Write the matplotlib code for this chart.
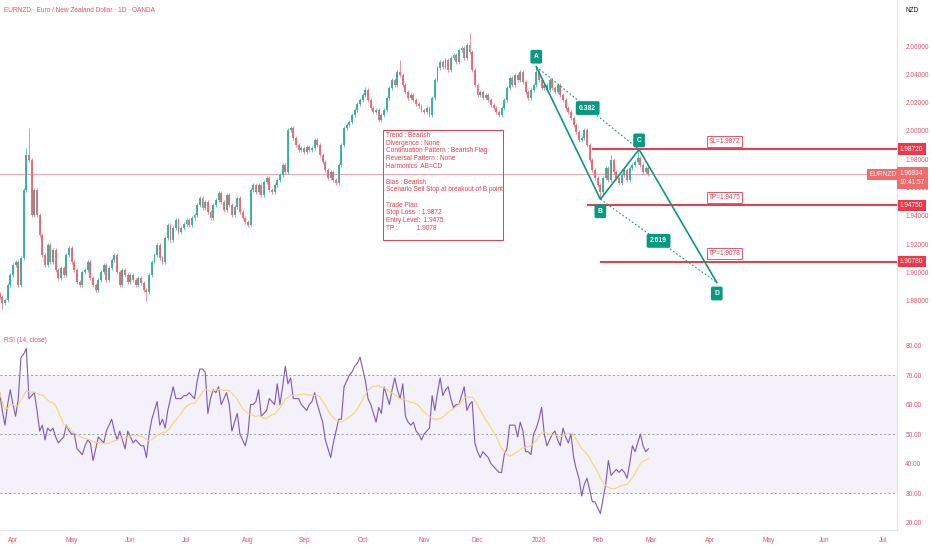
import matplotlib
matplotlib.use("Agg")
import matplotlib.pyplot as plt
import matplotlib.transforms as mtransforms
import numpy as np
import pandas as pd

plt.rcParams['font.family'] = ['Liberation Sans', 'DejaVu Sans']
FS = 4.7

# Daily closes EURNZD, first bar 2025-03-25
closes = [
    1.8828, 1.8786, 1.8807, 1.8913, 1.8984, 1.9054, 1.9075, 1.8913, 1.9104, 1.9584,
    1.9831, 1.9796, 1.9407, 1.9584, 1.9407, 1.9266, 1.9125, 1.9054, 1.9195, 1.9075,
    1.9160, 1.9019, 1.8962, 1.9033, 1.8984, 1.9125, 1.9174, 1.9075, 1.9019, 1.8934,
    1.8913, 1.9005, 1.9019, 1.9075, 1.8962, 1.8913, 1.8878, 1.8948, 1.9005, 1.9054,
    1.8948, 1.9033, 1.9089, 1.9125, 1.9005, 1.8913, 1.9019, 1.8984, 1.8934, 1.8984,
    1.8948, 1.8913, 1.8962, 1.8927, 1.8878, 1.8864, 1.8984, 1.9075, 1.9125, 1.9195,
    1.9104, 1.9075, 1.9245, 1.9337, 1.9231, 1.9315, 1.9372, 1.9287, 1.9315, 1.9344,
    1.9372, 1.9337, 1.9386, 1.9407, 1.9478, 1.9527, 1.9457, 1.9499, 1.9428, 1.9386,
    1.9478, 1.9513, 1.9562, 1.9499, 1.9442, 1.9548, 1.9478, 1.9407, 1.9464, 1.9527,
    1.9428, 1.9386, 1.9358, 1.9337, 1.9584, 1.9619, 1.9570, 1.9619, 1.9548, 1.9640,
    1.9668, 1.9584, 1.9570, 1.9619, 1.9654, 1.9690, 1.9760, 1.9711, 2.0007, 2.0021,
    1.9951, 1.9901, 1.9866, 1.9880, 1.9852, 1.9887, 1.9866, 1.9880, 1.9937, 1.9901,
    1.9831, 1.9781, 1.9725, 1.9668, 1.9711, 1.9654, 1.9633, 1.9760, 1.9901, 2.0021,
    2.0043, 2.0064, 2.0113, 2.0148, 2.0191, 2.0219, 2.0254, 2.0290, 2.0219, 2.0162,
    2.0134, 2.0148, 2.0078, 2.0113, 2.0148, 2.0233, 2.0304, 2.0360, 2.0325, 2.0417,
    2.0396, 2.0325, 2.0276, 2.0233, 2.0254, 2.0219, 2.0191, 2.0177, 2.0148, 2.0134,
    2.0162, 2.0113, 2.0233, 2.0360, 2.0445, 2.0487, 2.0452, 2.0501, 2.0431, 2.0516,
    2.0537, 2.0487, 2.0572, 2.0586, 2.0516, 2.0607, 2.0558, 2.0431, 2.0325, 2.0254,
    2.0276, 2.0233, 2.0254, 2.0219, 2.0184, 2.0162, 2.0134, 2.0113, 2.0162, 2.0219,
    2.0304, 2.0374, 2.0325, 2.0396, 2.0360, 2.0417, 2.0346, 2.0276, 2.0233, 2.0290,
    2.0325, 2.0417, 2.0360, 2.0304, 2.0325, 2.0290, 2.0360, 2.0304, 2.0276, 2.0325,
    2.0254, 2.0219, 2.0162, 2.0134, 2.0092, 2.0043, 1.9993, 1.9937, 1.9951, 2.0007,
    1.9901, 1.9796, 1.9725, 1.9668, 1.9619, 1.9570, 1.9668, 1.9739, 1.9654, 1.9796,
    1.9711, 1.9668, 1.9633, 1.9690, 1.9725, 1.9654, 1.9739, 1.9760, 1.9781, 1.9810,
    1.9760, 1.9711, 1.9739, 1.96934,
]
first_open = 1.8850

# notable wick extremes (bar index -> price)
highs_seen = {10: 1.9880, 11: 2.0021, 137: 2.0310, 150: 2.0501, 176: 2.0690,
              201: 2.0454, 229: 1.9830, 239: 1.9870}
lows_seen = {1: 1.8745, 55: 1.8800, 225: 1.9518}

# RSI(14)
rsi = [
    64, 58, 53, 60, 65, 60, 56, 62, 76, 77, 79, 62, 63, 64, 58, 51, 53, 48, 52, 51,
    52, 49, 47, 48, 49, 53, 51, 50, 50, 45, 44, 43, 46, 48, 47, 41, 45, 49, 48, 47,
    51, 53, 55, 51, 48, 51, 48, 45, 51, 49, 47, 48, 47, 46, 46, 42, 50, 55, 58, 61,
    53, 55, 52, 58, 62, 66, 62, 62, 62, 63, 63, 64, 63, 62, 68, 72, 72, 71, 57, 62,
    65, 64, 66, 60, 62, 64, 60, 51, 54, 57, 50, 48, 46, 50, 60, 60, 61, 65, 56, 57,
    58, 62, 61, 60, 67, 60, 66, 73, 67, 69, 62, 62, 62, 60, 59, 58, 60, 61, 64, 60,
    57, 54, 48, 45, 42, 47, 51, 55, 55, 66, 68, 70, 71, 73, 74, 76, 72, 68, 62, 60,
    57, 54, 59, 57, 66, 63, 60, 65, 69, 65, 62, 67, 56, 54, 53, 54, 51, 50, 48, 50,
    51, 52, 63, 58, 64, 69, 63, 65, 66, 62, 59, 60, 60, 63, 66, 58, 60, 61, 47, 44,
    42, 44, 43, 42, 40, 39, 38, 37, 37, 43, 45, 53, 53, 53, 49, 54, 51, 44, 44, 43,
    50, 52, 55, 59, 50, 46, 48, 50, 51, 48, 46, 52, 49, 47, 50, 42, 38, 35, 29, 33,
    35, 31, 27, 27, 25, 23, 28, 33, 41, 36, 37, 38, 37, 38, 37, 35, 40, 46, 44, 47,
    50, 46, 44, 45,
]

# AB=CD pattern pivots (bar index, price)
pattern_names = ['A', 'B', 'C', 'D']
pattern_bars = [201, 225, 239.5, 268.6]
pattern_prices = [2.0454, 1.9518, 1.9870, 1.8930]
ratio_text = ['0.382', '2.619']

# trade levels
level_names = ['SL=1.9872', 'TP=1.9475', 'TP=1.9078']
level_prices = [1.9872, 1.9475, 1.9078]
level_start = [222, 220, 225]

plan_lines = [
    "Trend : Bearish",
    "Divergence : None",
    "Continuation Pattern : Bearish Flag",
    "Reversal Pattern : None",
    "Harmonics  AB=CD",
    "",
    "Bias : Bearish",
    "Scenario Sell Stop at breakout of B point",
    "",
    "Trade Plan",
    "Stop Loss  : 1.9872",
    "Entry Level:  1.9475",
    "TP :           1.9078",
]

price_ticks = [1.88, 1.90, 1.92, 1.94, 1.96, 1.98, 2.00, 2.02, 2.04, 2.06]
rsi_ticks = [20, 30, 40, 50, 60, 70, 80]

UP = '#2bb09a'
DOWN = '#f45f6a'
RED = '#f23645'
TXT = '#ef4f63'
TEAL = '#089981'
GRID = '#e0e3eb'

n = len(closes)
dates = pd.bdate_range('2025-03-25', periods=360)
bars = np.arange(n)
c = np.array(closes)
o = np.concatenate([[first_open], c[:-1]])
hi = np.maximum(o, c) + 0.0012
lo = np.minimum(o, c) - 0.0012
for k, v in highs_seen.items():
    hi[k] = v
for k, v in lows_seen.items():
    lo[k] = v

month_pos, month_lab = [], []
for m in pd.date_range('2025-04-01', '2026-07-01', freq='MS'):
    month_pos.append(int(np.searchsorted(dates, m)))
    month_lab.append(str(m.year) if m.month == 1 else m.strftime('%b'))

fig = plt.figure(figsize=(9.32, 5.5), dpi=100)
W = 897 / 932
ax = fig.add_axes([0, 1 - 325 / 550, W, 325 / 550])
ax2 = fig.add_axes([0, 20 / 550, W, 205 / 550], sharex=ax)

x_lo, x_hi = 0.15, 336.1
ax.set_xlim(x_lo, x_hi)
ax.set_ylim(1.8630, 2.0925)

# candles
cols = np.where(c >= o, UP, DOWN)
ax.vlines(bars, lo, hi, colors=cols, linewidth=0.7, alpha=0.7, zorder=2)
ax.bar(bars, np.maximum(np.abs(c - o), 0.0004), bottom=np.minimum(o, c),
       width=0.72, color=cols, linewidth=0, alpha=0.9, zorder=3)

# last price line
last = closes[-1]
ax.axhline(last, color='#f7a1ac', linewidth=0.7, zorder=1)

# trade levels
for name, lvl, st in zip(level_names, level_prices, level_start):
    ax.hlines(lvl, st, x_hi + 5, colors=RED, linewidth=1.4, zorder=4)
    ax.annotate(name, xy=(271.5, lvl), xytext=(0, 5.5), textcoords='offset points',
                ha='center', va='center', fontsize=FS, color=RED, zorder=6,
                bbox=dict(boxstyle='square,pad=0.3', fc='white', ec=RED, lw=0.6))

# harmonic pattern
ax.plot(pattern_bars, pattern_prices, color=TEAL, linewidth=1.2, zorder=5)
ax.plot([pattern_bars[0], pattern_bars[2]], [pattern_prices[0], pattern_prices[2]],
        color=TEAL, linewidth=0.8, linestyle=(0, (1.5, 2)), zorder=5)
ax.plot([pattern_bars[1], pattern_bars[3]], [pattern_prices[1], pattern_prices[3]],
        color=TEAL, linewidth=0.8, linestyle=(0, (1.5, 2)), zorder=5)
box = dict(boxstyle='round,pad=0.5,rounding_size=0.25', fc=TEAL, ec='none')
offs = [10, -12, 9, -11]
for name, bx, py, dy in zip(pattern_names, pattern_bars, pattern_prices, offs):
    ax.annotate(name, xy=(bx, py), xytext=(0, dy * 0.72), textcoords='offset points',
                ha='center', va='center', fontsize=FS + 0.2, color='white',
                fontweight='bold', bbox=box, zorder=7)
for txt, (i, j) in zip(ratio_text, [(0, 2), (1, 3)]):
    mx = (pattern_bars[i] + pattern_bars[j]) / 2
    my = (pattern_prices[i] + pattern_prices[j]) / 2
    ax.text(mx, my, txt, ha='center', va='center', fontsize=FS + 0.2, color='white',
            fontweight='bold', bbox=box, zorder=7)

# trade plan note, one text per line so the spacing is exact
ax.add_patch(plt.Rectangle((383 / 897, 1 - 240 / 325), 120 / 897, 110 / 325,
                           transform=ax.transAxes, fill=False, ec=RED, lw=0.7,
                           zorder=6))
for k, line in enumerate(plan_lines):
    ax.text(386 / 897, 1 - (135.5 + 7.75 * k) / 325, line, transform=ax.transAxes,
            ha='left', va='center', fontsize=FS, color=RED, zorder=6)

# right axis for price
ax.yaxis.tick_right()
ax.set_yticks(price_ticks)
ax.set_yticklabels([f"{t:.5f}" for t in price_ticks])
ax.tick_params(axis='y', length=0, pad=6, labelsize=FS, labelcolor=TXT)
ax.tick_params(axis='x', length=0, labelbottom=False)
for s in ['top', 'left']:
    ax.spines[s].set_visible(False)
ax.spines['right'].set_color(GRID)
ax.spines['bottom'].set_color(GRID)

blend = mtransforms.blended_transform_factory(ax.transAxes, ax.transData)
for lvl in level_prices:
    ax.text(1.0 + 3 / 897, lvl, f"{lvl:.5f}", transform=blend, ha='left',
            va='center', fontsize=FS, color='white', clip_on=False, zorder=8,
            bbox=dict(boxstyle='square,pad=0.35', fc=RED, ec='none'))
ax.text(1.0 - 1 / 897, last, 'EURNZD', transform=blend, ha='right', va='center',
        fontsize=FS, color='white', clip_on=False, zorder=8,
        bbox=dict(boxstyle='square,pad=0.35', fc='#f26b6b', ec='none'))
ax.annotate(f"{last:.5f}\n10:41:57", xy=(1.0 + 3 / 897, last), xycoords=blend,
            xytext=(0, 3.2), textcoords='offset points', ha='left', va='top',
            fontsize=FS, color='white', linespacing=1.45, annotation_clip=False,
            zorder=8, bbox=dict(boxstyle='square,pad=0.45', fc='#f26b6b', ec='none'))

# RSI pane
ma = pd.Series(rsi).rolling(14, min_periods=1).mean()
ax2.set_ylim(17.46, 86.95)
ax2.axhspan(30, 70, color='#7e57c2', alpha=0.08, linewidth=0)
for lv in [70, 50, 30]:
    ax2.axhline(lv, color='#9598a1', linewidth=0.7, linestyle=(0, (2, 2.5)))
ax2.plot(np.arange(len(rsi)), rsi, color='#7e57c2', linewidth=0.8)
ax2.plot(np.arange(len(rsi)), ma, color='#f5d76e', linewidth=0.8)
ax2.text(4 / 897, (530 - 340) / 205, 'RSI (14, close)', transform=ax2.transAxes,
         ha='left', va='center', fontsize=FS, color=TXT)

ax2.yaxis.tick_right()
ax2.set_yticks(rsi_ticks)
ax2.set_yticklabels([f"{t:.2f}" for t in rsi_ticks])
ax2.tick_params(axis='y', length=0, pad=6, labelsize=FS, labelcolor=TXT)
ax2.set_xticks(month_pos)
ax2.set_xticklabels(month_lab)
ax2.tick_params(axis='x', length=0, pad=5, labelsize=FS, labelcolor=TXT)
for s in ['top', 'left']:
    ax2.spines[s].set_visible(False)
ax2.spines['right'].set_color(GRID)
ax2.spines['bottom'].set_color(GRID)

fig.text(4 / 932, 1 - 10 / 550, "EURNZD · Euro / New Zealand Dollar · 1D · OANDA",
         ha='left', va='center', fontsize=FS, color=TXT)
fig.text(912 / 932, 1 - 11 / 550, "NZD", ha='center', va='center', fontsize=FS,
         color='#131722')

fig.savefig('out.png', dpi=100)
